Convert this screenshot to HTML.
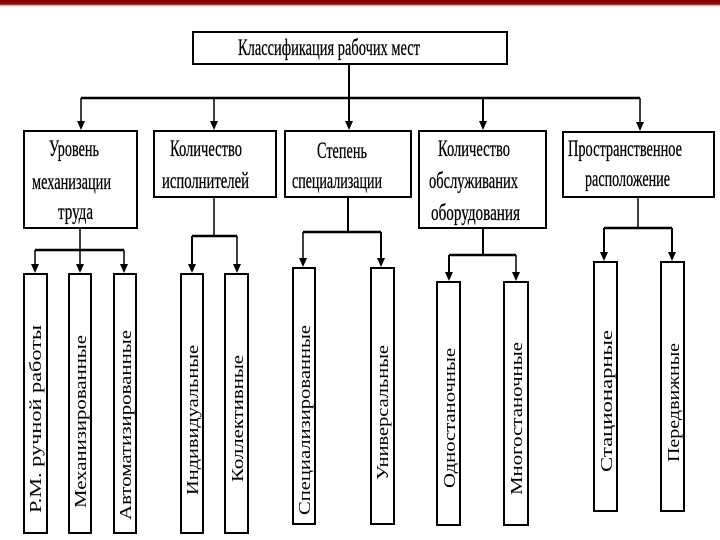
<!DOCTYPE html>
<html><head><meta charset="utf-8"><style>
html,body{margin:0;padding:0;background:#fff;width:720px;height:540px;overflow:hidden}
svg text{font-family:"Liberation Serif","Noto Serif CJK SC",serif;fill:#000}
</style></head><body>
<svg width="720" height="540" viewBox="0 0 720 540" xmlns="http://www.w3.org/2000/svg">
<defs>
<linearGradient id="g" x1="0" y1="0" x2="0" y2="1">
<stop offset="0" stop-color="#7a0000"/><stop offset="0.6" stop-color="#9a1010"/><stop offset="0.8" stop-color="#e8c8b0"/><stop offset="1" stop-color="#fff8f0"/>
</linearGradient>
</defs>
<rect x="0" y="0" width="720" height="7" fill="url(#g)"/>

<g stroke="#000" fill="none" stroke-width="2">
<rect x="193" y="32" width="314" height="32"/>
<line x1="349" y1="64" x2="349" y2="98"/>
<line x1="81" y1="98" x2="640" y2="98" stroke-width="2.5"/>
<line x1="81" y1="98" x2="81" y2="124" stroke-width="1.5"/>
<line x1="214" y1="98" x2="214" y2="124" stroke-width="1.5"/>
<line x1="349" y1="98" x2="349" y2="124"/>
<line x1="483" y1="98" x2="483" y2="124"/>
<line x1="640" y1="98" x2="640" y2="124" stroke-width="1.5"/>

<rect x="24" y="131" width="113" height="97"/>
<rect x="154" y="131" width="122" height="66"/>
<rect x="285" y="131" width="126" height="66"/>
<rect x="419" y="131" width="127" height="97"/>
<rect x="563" y="132" width="151" height="65"/>

<line x1="80" y1="228" x2="80" y2="250" stroke-width="1.5"/>
<line x1="35" y1="250" x2="124" y2="250" stroke-width="2.5"/>
<line x1="35" y1="250" x2="35" y2="267" stroke-width="1.5"/>
<line x1="80" y1="250" x2="80" y2="267" stroke-width="1.5"/>
<line x1="124" y1="250" x2="124" y2="267" stroke-width="1.5"/>
<line x1="214" y1="197" x2="214" y2="236" stroke-width="1.5"/>
<line x1="192" y1="236" x2="237" y2="236" stroke-width="2.5"/>
<line x1="192" y1="236" x2="192" y2="267" stroke-width="2"/>
<line x1="237" y1="236" x2="237" y2="267" stroke-width="1.5"/>
<line x1="348" y1="197" x2="348" y2="232" stroke-width="2"/>
<line x1="303" y1="232" x2="381" y2="232" stroke-width="2.5"/>
<line x1="303" y1="232" x2="303" y2="261" stroke-width="1.5"/>
<line x1="381" y1="232" x2="381" y2="261" stroke-width="2"/>
<line x1="483" y1="228" x2="483" y2="255" stroke-width="2"/>
<line x1="449" y1="255" x2="516" y2="255" stroke-width="2.5"/>
<line x1="449" y1="255" x2="449" y2="275" stroke-width="2"/>
<line x1="516" y1="255" x2="516" y2="275" stroke-width="1.5"/>
<line x1="638" y1="197" x2="638" y2="228" stroke-width="1.5"/>
<line x1="604" y1="228" x2="672" y2="228" stroke-width="2.5"/>
<line x1="604" y1="228" x2="604" y2="255" stroke-width="2"/>
<line x1="672" y1="228" x2="672" y2="255" stroke-width="2"/>

<rect x="24" y="274" width="23" height="259"/>
<rect x="69" y="274" width="22" height="259"/>
<rect x="114" y="274" width="22" height="259"/>
<rect x="181" y="274" width="22" height="259"/>
<rect x="225" y="274" width="23" height="259"/>
<rect x="293" y="268" width="22" height="256"/>
<rect x="371" y="268" width="23" height="256"/>
<rect x="437" y="282" width="23" height="243"/>
<rect x="504" y="282" width="24" height="243"/>
<rect x="594" y="262" width="23" height="249"/>
<rect x="661" y="262" width="23" height="249"/>
</g>

<g fill="#000">
<polygon points="77,121 85,121 81,130"/>
<polygon points="210,121 218,121 214,130"/>
<polygon points="345,121 353,121 349,130"/>
<polygon points="479,121 487,121 483,130"/>
<polygon points="636,122 644,122 640,131"/>
<polygon points="31,264 39,264 35,273"/>
<polygon points="76,264 84,264 80,273"/>
<polygon points="120,264 128,264 124,273"/>
<polygon points="188,264 196,264 192,273"/>
<polygon points="233,264 241,264 237,273"/>
<polygon points="299,258 307,258 303,267"/>
<polygon points="377,258 385,258 381,267"/>
<polygon points="445,272 453,272 449,281"/>
<polygon points="512,272 520,272 516,281"/>
<polygon points="600,252 608,252 604,261"/>
<polygon points="668,252 676,252 672,261"/>
</g>

<g font-size="23" stroke="#000" stroke-width="0.3">
<text x="238" y="55" textLength="182" lengthAdjust="spacingAndGlyphs">Классификация рабочих мест</text>
<text x="49" y="156" textLength="50" lengthAdjust="spacingAndGlyphs">Уровень</text>
<text x="32" y="189" textLength="79" lengthAdjust="spacingAndGlyphs">механизации</text>
<text x="58" y="219" textLength="35" lengthAdjust="spacingAndGlyphs">труда</text>
<text x="170" y="156" textLength="72" lengthAdjust="spacingAndGlyphs">Количество</text>
<text x="162" y="188" textLength="87" lengthAdjust="spacingAndGlyphs">исполнителей</text>
<text x="317" y="158" textLength="50" lengthAdjust="spacingAndGlyphs">Степень</text>
<text x="292" y="188" textLength="90" lengthAdjust="spacingAndGlyphs">специализации</text>
<text x="438" y="156" textLength="72" lengthAdjust="spacingAndGlyphs">Количество</text>
<text x="429" y="188" textLength="89" lengthAdjust="spacingAndGlyphs">обслуживаних</text>
<text x="431" y="220" textLength="89" lengthAdjust="spacingAndGlyphs">оборудования</text>
<text x="568" y="156" textLength="114" lengthAdjust="spacingAndGlyphs">Пространственное</text>
<text x="585" y="186" textLength="85" lengthAdjust="spacingAndGlyphs">расположение</text>
</g>
<g font-size="17">
<text transform="translate(41,513) rotate(-90)" textLength="188" lengthAdjust="spacingAndGlyphs">Р.М. ручной работы</text>
<text transform="translate(86,508) rotate(-90)" textLength="173" lengthAdjust="spacingAndGlyphs">Механизированные</text>
<text transform="translate(131,520) rotate(-90)" textLength="190" lengthAdjust="spacingAndGlyphs">Автоматизированные</text>
<text transform="translate(198,495) rotate(-90)" textLength="150" lengthAdjust="spacingAndGlyphs">Индивидуальные</text>
<text transform="translate(243,482) rotate(-90)" textLength="127" lengthAdjust="spacingAndGlyphs">Коллективные</text>
<text transform="translate(310,515) rotate(-90)" textLength="190" lengthAdjust="spacingAndGlyphs">Специализированные</text>
<text transform="translate(388,480) rotate(-90)" textLength="135" lengthAdjust="spacingAndGlyphs">Универсальные</text>
<text transform="translate(455,488) rotate(-90)" textLength="140" lengthAdjust="spacingAndGlyphs">Одностаночные</text>
<text transform="translate(522,495) rotate(-90)" textLength="153" lengthAdjust="spacingAndGlyphs">Многостаночные</text>
<text transform="translate(612,472) rotate(-90)" textLength="142" lengthAdjust="spacingAndGlyphs">Стационарные</text>
<text transform="translate(679,462) rotate(-90)" textLength="119" lengthAdjust="spacingAndGlyphs">Передвижные</text>
</g>
</svg>
</body></html>
